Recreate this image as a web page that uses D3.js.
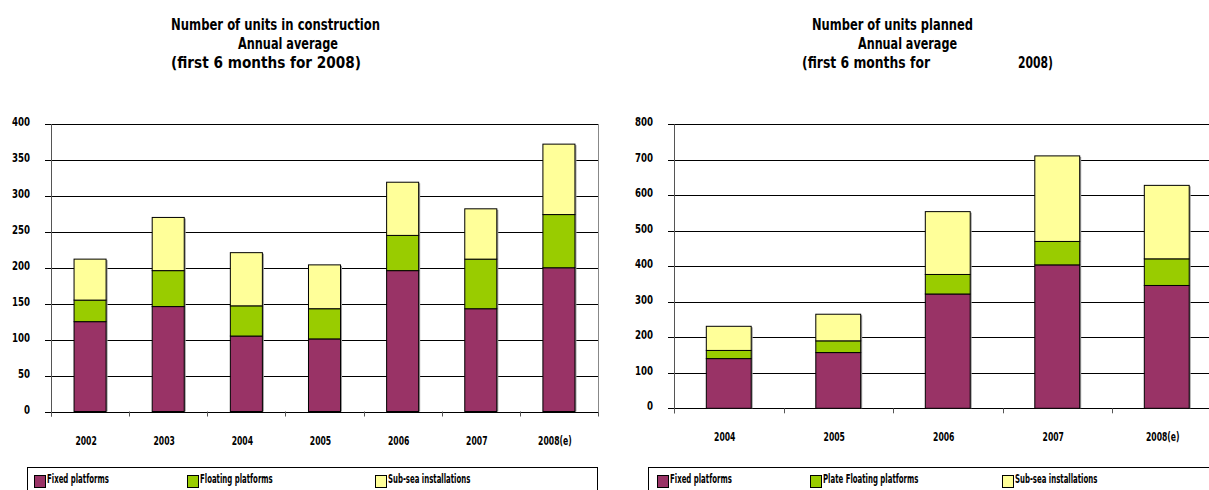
<!DOCTYPE html>
<html>
<head>
<meta charset="utf-8">
<script src="https://cdn.jsdelivr.net/npm/d3@7/dist/d3.min.js"></script>
<style>
  html, body { margin: 0; padding: 0; background: #fff; }
  svg { display: block; }
  text { font-family: "DejaVu Sans", sans-serif; font-weight: bold; fill: #000; }
</style>
</head>
<body>
<svg id="chart" width="1209" height="490"></svg>
<script>
// Units in construction (annual average, first 6 months for 2008)
const constructionYears = ["2002", "2003", "2004", "2005", "2006", "2007", "2008(e)"];
const constructionFixed    = [125, 146, 105, 101, 196, 143, 200];
const constructionFloating = [30, 50, 42, 42, 49, 69, 74];
const constructionSubsea   = [57, 74, 74, 61, 74, 70, 98];
const constructionTicks = [0, 50, 100, 150, 200, 250, 300, 350, 400];

// Units planned (annual average, first 6 months for 2008)
const plannedYears = ["2004", "2005", "2006", "2007", "2008(e)"];
const plannedFixed    = [140, 157, 322, 404, 346];
const plannedFloating = [23, 33, 55, 66, 75];
const plannedSubsea   = [68, 75, 177, 241, 207];
const plannedTicks = [0, 100, 200, 300, 400, 500, 600, 700, 800];

const seriesKeys = ["fixed", "floating", "subsea"];
const seriesColors = { fixed: "#993366", floating: "#99CC00", subsea: "#FFFF99" };

const svg = d3.select("#chart");

// Horizontally compress text to a fraction of its natural width
function squeeze(sel, k) {
  sel.each(function () {
    const w = this.getComputedTextLength();
    d3.select(this).attr("textLength", w * k).attr("lengthAdjust", "spacingAndGlyphs");
  });
}
function fitTo(sel, width) {
  sel.attr("textLength", width).attr("lengthAdjust", "spacingAndGlyphs");
}

function drawPanel(cfg) {
  const g = svg.append("g");
  const rows = cfg.years.map((yr, i) => ({
    year: yr, fixed: cfg.fixed[i], floating: cfg.floating[i], subsea: cfg.subsea[i]
  }));
  const stacked = d3.stack().keys(seriesKeys)(rows);

  const x = d3.scaleBand().domain(cfg.years)
    .range([cfg.left, cfg.right]).paddingInner(0.59).paddingOuter(0.295);
  const y = d3.scaleLinear().domain([0, cfg.max]).range([cfg.bottom, cfg.top]);

  // gridlines with tick stubs left of the axis
  g.selectAll("line.grid").data(cfg.ticks).join("line")
    .attr("x1", cfg.left - 6).attr("x2", Math.min(cfg.right, 1209))
    .attr("y1", d => Math.round(y(d)) + 0.5).attr("y2", d => Math.round(y(d)) + 0.5)
    .attr("stroke", "#000").attr("stroke-width", 1);

  // value axis and right frame
  g.append("line").attr("x1", cfg.left + 0.5).attr("x2", cfg.left + 0.5)
    .attr("y1", y(cfg.max)).attr("y2", cfg.bottom + 5)
    .attr("stroke", "#555").attr("stroke-width", 1);
  if (cfg.right < 1209) {
    g.append("line").attr("x1", cfg.right + 0.5).attr("x2", cfg.right + 0.5)
      .attr("y1", y(cfg.max)).attr("y2", cfg.bottom)
      .attr("stroke", "#888").attr("stroke-width", 1);
  }

  // category ticks at band boundaries
  const bounds = cfg.years.map(d => x(d) - x.step() * x.paddingOuter());
  bounds.push(cfg.right);
  g.selectAll("line.xt").data(bounds).join("line")
    .attr("x1", d => Math.round(d) + 0.5).attr("x2", d => Math.round(d) + 0.5)
    .attr("y1", cfg.bottom).attr("y2", cfg.bottom + 5)
    .attr("stroke", "#555");

  // y tick labels
  g.selectAll("text.yl").data(cfg.ticks).join("text")
    .attr("x", cfg.left - 21).attr("y", d => y(d) + 2)
    .attr("text-anchor", "end").attr("font-size", 12)
    .text(d => d)
    .call(squeeze, 0.72);

  // bar shadows
  g.selectAll("rect.shadow").data(rows).join("rect")
    .attr("x", d => x(d.year) + 1.5)
    .attr("y", d => y(d.fixed + d.floating + d.subsea) + 1)
    .attr("width", x.bandwidth())
    .attr("height", d => cfg.bottom - y(d.fixed + d.floating + d.subsea) - 1)
    .attr("fill", "#9a9a9a");

  // stacked bars
  g.selectAll("g.layer").data(stacked).join("g")
    .attr("fill", d => seriesColors[d.key])
    .selectAll("rect").data(d => d).join("rect")
    .attr("x", d => x(d.data.year))
    .attr("y", d => y(d[1]))
    .attr("width", x.bandwidth())
    .attr("height", d => y(d[0]) - y(d[1]))
    .attr("stroke", "#000").attr("stroke-width", 1);

  // category labels
  g.selectAll("text.xl").data(cfg.years).join("text")
    .attr("x", d => x(d) + x.bandwidth() / 2 - 4)
    .attr("y", cfg.bottom + 33)
    .attr("text-anchor", "middle").attr("font-size", 12)
    .text(d => d)
    .call(squeeze, 0.64);

  // title lines
  cfg.title.forEach(t => {
    g.append("text").attr("x", t.x).attr("y", t.y).attr("font-size", 16)
      .text(t.text).call(fitTo, t.w);
  });

  // legend
  g.append("rect").attr("x", cfg.legend.x + 0.5).attr("y", cfg.legend.y + 0.5)
    .attr("width", cfg.legend.w).attr("height", 40)
    .attr("fill", "#fff").attr("stroke", "#000");
  cfg.legend.items.forEach((it, i) => {
    g.append("rect").attr("x", it.x + 0.5).attr("y", cfg.legend.y + 8.5)
      .attr("width", 11).attr("height", 12)
      .attr("fill", seriesColors[seriesKeys[i]]).attr("stroke", "#000");
    g.append("text").attr("x", it.x + 13).attr("y", cfg.legend.y + 16)
      .attr("font-size", 12).text(it.label)
      .call(squeeze, 0.58);
  });
}

drawPanel({
  years: constructionYears, fixed: constructionFixed, floating: constructionFloating,
  subsea: constructionSubsea, ticks: constructionTicks, max: 400,
  left: 51, right: 598, top: 124, bottom: 411.5,
  title: [
    { text: "Number of units in construction", x: 171, y: 30, w: 209 },
    { text: "Annual average", x: 238, y: 49, w: 100 },
    { text: "(first 6 months for 2008)", x: 171, y: 68, w: 190 }
  ],
  legend: { x: 27, y: 467, w: 570, items: [
    { x: 34, label: "Fixed platforms" },
    { x: 187, label: "Floating platforms" },
    { x: 375, label: "Sub-sea installations" }
  ] }
});

drawPanel({
  years: plannedYears, fixed: plannedFixed, floating: plannedFloating,
  subsea: plannedSubsea, ticks: plannedTicks, max: 800,
  left: 674, right: 674 + 5 * 109.5, top: 124.3, bottom: 408.3,
  title: [
    { text: "Number of units planned", x: 812, y: 30, w: 161 },
    { text: "Annual average", x: 858, y: 49, w: 99 },
    { text: "(first 6 months for", x: 802, y: 68, w: 128 },
    { text: "2008)", x: 1018, y: 68, w: 35 }
  ],
  legend: { x: 648, y: 467, w: 600, items: [
    { x: 657, label: "Fixed platforms" },
    { x: 810, label: "Plate Floating platforms" },
    { x: 1002, label: "Sub-sea installations" }
  ] }
});
</script>
</body>
</html>
